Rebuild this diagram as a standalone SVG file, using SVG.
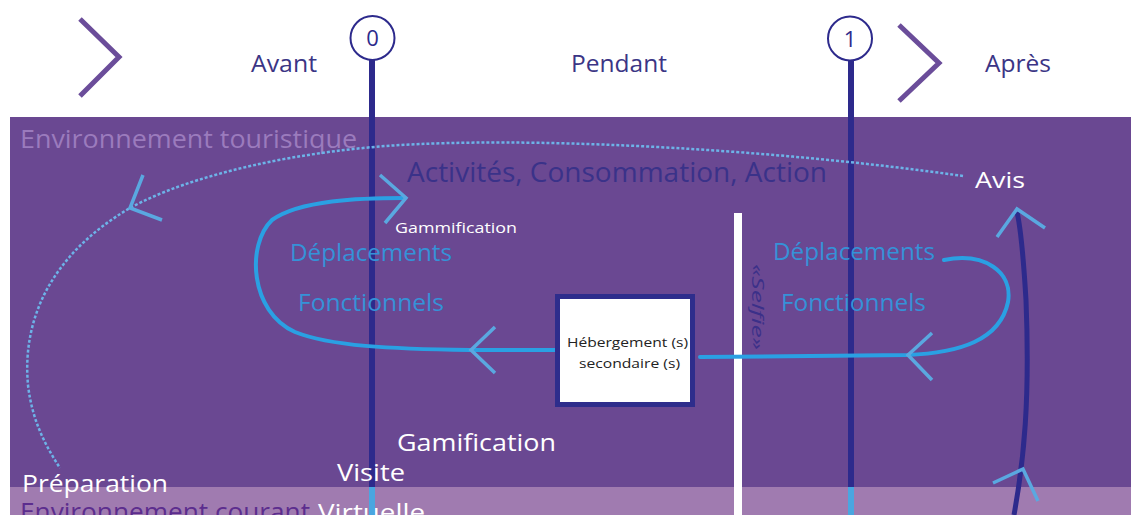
<svg xmlns="http://www.w3.org/2000/svg" width="1131" height="515" viewBox="0 0 1131 515">
<defs>
<style>
text{font-family:"Open Sans","Noto Sans","Liberation Sans",sans-serif;}
.hdr{fill:#3b3585;font-size:23px;}
.chev{fill:none;stroke:#6b4d9a;stroke-width:5;}
.tl{stroke:#2d2a8c;stroke-width:6;fill:none;}
.tlb{stroke:#4aa6e0;stroke-width:6;fill:none;}
.loop{fill:none;stroke:#2aa0e3;stroke-width:4;stroke-linecap:round;}
.arm{fill:none;stroke:#5aa8e0;stroke-width:3.5;}
.dep{fill:#3592d8;font-size:23px;}
.wt{fill:#ffffff;}
</style>
</defs>
<rect x="0" y="0" width="1131" height="515" fill="#ffffff"/>
<g id="header">
<polyline class="chev" points="80,19 119,57 80,96"/>
<polyline class="chev" points="899,25 939,63 899,101"/>
<text class="hdr" x="251" y="72" textLength="66" lengthAdjust="spacingAndGlyphs">Avant</text>
<text class="hdr" x="571" y="72" textLength="96" lengthAdjust="spacingAndGlyphs">Pendant</text>
<text class="hdr" x="985" y="72" textLength="66" lengthAdjust="spacingAndGlyphs">Après</text>
</g>
<g id="zones">
<rect x="10" y="117" width="1121" height="370" fill="#6a4892"/>
<rect x="10" y="487" width="1121" height="28" fill="#a07bb0"/>
<text x="20" y="148" fill="#9b7bbd" font-size="25" textLength="337" lengthAdjust="spacingAndGlyphs">Environnement touristique</text>
<text x="20" y="521" fill="#5c2d8e" font-size="25" textLength="290" lengthAdjust="spacingAndGlyphs">Environnement courant</text>
</g>
<g id="milestone-0">
<circle cx="372.5" cy="38" r="22" fill="#ffffff" stroke="#2d2a8c" stroke-width="2"/>
<text x="372.5" y="46" text-anchor="middle" fill="#2d2a8c" font-size="22">0</text>
<line class="tl" x1="372" y1="60" x2="372" y2="487"/>
<line class="tlb" x1="372" y1="487" x2="372" y2="515"/>
</g>
<g id="milestone-1">
<circle cx="850" cy="38.5" r="22" fill="#ffffff" stroke="#2d2a8c" stroke-width="2"/>
<text x="850" y="47" text-anchor="middle" fill="#2d2a8c" font-size="22">1</text>
<line class="tl" x1="851" y1="61" x2="851" y2="487"/>
<line class="tlb" x1="851" y1="487" x2="851" y2="515"/>
</g>
<g id="selfie">
<rect x="734" y="213" width="8" height="302" fill="#ffffff"/>
<text transform="translate(752,264) rotate(90)" fill="#3b3089" font-size="17" font-style="italic" textLength="86" lengthAdjust="spacingAndGlyphs">«Selfie»</text>
</g>
<g id="labels">
<text x="407" y="182" fill="#3a3289" font-size="27" textLength="420" lengthAdjust="spacingAndGlyphs">Activités, Consommation, Action</text>
<text class="wt" x="975" y="188" font-size="22" textLength="50" lengthAdjust="spacingAndGlyphs">Avis</text>
<text class="wt" x="395" y="233" font-size="15" textLength="122" lengthAdjust="spacingAndGlyphs">Gammification</text>
<text class="dep" x="290" y="261" textLength="162" lengthAdjust="spacingAndGlyphs">Déplacements</text>
<text class="dep" x="298" y="311" textLength="146" lengthAdjust="spacingAndGlyphs">Fonctionnels</text>
<text class="dep" x="773" y="260" textLength="162" lengthAdjust="spacingAndGlyphs">Déplacements</text>
<text class="dep" x="781" y="311" textLength="145" lengthAdjust="spacingAndGlyphs">Fonctionnels</text>
<text class="wt" x="397" y="451" font-size="24" textLength="159" lengthAdjust="spacingAndGlyphs">Gamification</text>
<text class="wt" x="337" y="481" font-size="23" textLength="68" lengthAdjust="spacingAndGlyphs">Visite</text>
<text class="wt" x="318" y="521" font-size="23" textLength="107" lengthAdjust="spacingAndGlyphs">Virtuelle</text>
<text class="wt" x="22" y="492" font-size="23" textLength="146" lengthAdjust="spacingAndGlyphs">Préparation</text>
</g>
<g id="connectors">
<path d="M 963 176 C 780 150, 560 138, 420 144 C 300 149, 190 175, 130 208 C 50 255, 22 320, 28 385 C 32 420, 45 445, 60 468" fill="none" stroke="#6db3e8" stroke-width="2.5" stroke-dasharray="3 2"/>
<polyline class="arm" points="143,175 130,208 162,220"/>
<path class="loop" d="M 555 350 L 470 350 C 390 349, 330 346, 295 332 C 250 312, 246 245, 272 220 C 300 200, 360 198, 405 198"/>
<polyline class="arm" points="380,175 406,198 385,223"/>
<polyline class="arm" points="495,327 471,350 495,373"/>
<path class="loop" d="M 700 357 L 907 355 C 960 353, 1000 340, 1008 302 C 1013 272, 985 252, 944 260"/>
<polyline class="arm" points="932,333 908,355 932,380"/>
<path d="M 1014 515 C 1024 460, 1030 400, 1026 300 C 1023 250, 1020 225, 1017 212" fill="none" stroke="#2d2a8c" stroke-width="5"/>
<polyline class="arm" points="997,237 1017,209 1045,228"/>
<polyline class="arm" points="993,483 1023,469 1038,501"/>
</g>
<g id="hebergement">
<rect x="557.5" y="296.5" width="135" height="108" fill="#ffffff" stroke="#2e2d8c" stroke-width="5"/>
<text x="627.5" y="347" text-anchor="middle" fill="#222222" font-size="13" textLength="121" lengthAdjust="spacingAndGlyphs">Hébergement (s)</text>
<text x="629.5" y="368" text-anchor="middle" fill="#222222" font-size="13" textLength="101" lengthAdjust="spacingAndGlyphs">secondaire (s)</text>
</g>
</svg>
